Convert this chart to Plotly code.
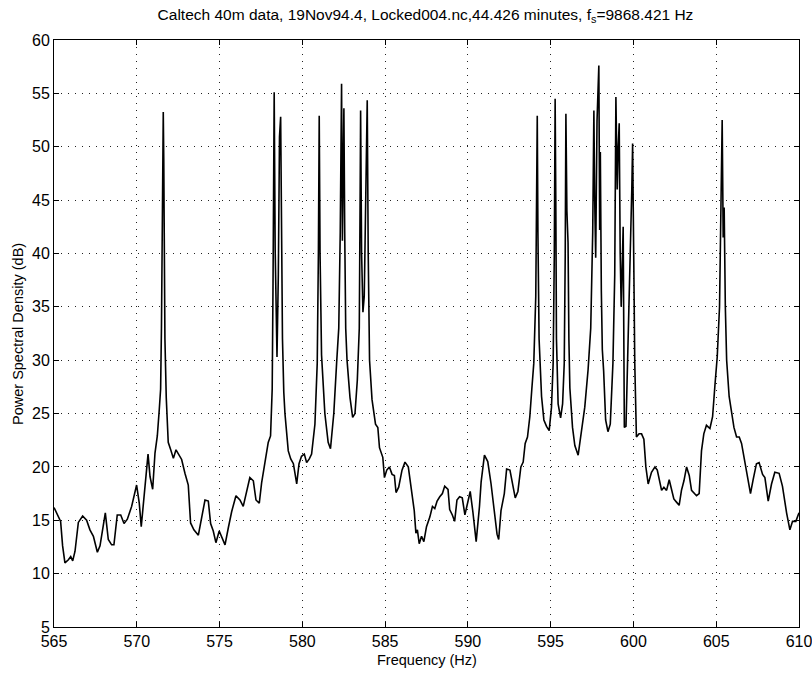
import plotly.graph_objects as go

freq_hz = [
    565.00, 565.26, 565.40, 565.52, 565.66, 565.87, 566.01, 566.13, 566.27, 566.47,
    566.73, 566.97, 567.17, 567.38, 567.62, 567.78, 567.94, 568.10, 568.28, 568.48,
    568.62, 568.82, 569.03, 569.23, 569.43, 569.69, 569.99, 570.15, 570.27, 570.56,
    570.68, 570.80, 570.96, 571.10, 571.24, 571.36, 571.44, 571.49, 571.54, 571.60,
    571.63, 571.66, 571.70, 571.78, 571.90, 572.05, 572.21, 572.37, 572.51, 572.71,
    572.91, 573.11, 573.25, 573.45, 573.72, 573.92, 574.12, 574.32, 574.46, 574.62,
    574.78, 574.98, 575.19, 575.33, 575.53, 575.73, 575.99, 576.23, 576.43, 576.63,
    576.83, 577.04, 577.20, 577.40, 577.54, 577.74, 577.94, 578.08, 578.18, 578.23,
    578.27, 578.30, 578.36, 578.42, 578.47, 578.55, 578.62, 578.69, 578.73, 578.80,
    578.88, 578.95, 579.15, 579.30, 579.46, 579.66, 579.80, 579.95, 580.12, 580.26,
    580.42, 580.56, 580.76, 580.90, 580.97, 581.02, 581.07, 581.16, 581.36, 581.56,
    581.70, 581.90, 582.07, 582.20, 582.29, 582.34, 582.37, 582.42, 582.47, 582.51,
    582.56, 582.62, 582.70, 582.88, 583.04, 583.18, 583.32, 583.44, 583.49, 583.52,
    583.58, 583.66, 583.74, 583.80, 583.86, 583.92, 583.98, 584.06, 584.21, 584.42,
    584.56, 584.66, 584.86, 584.96, 585.10, 585.26, 585.42, 585.56, 585.66, 585.82,
    586.02, 586.20, 586.40, 586.60, 586.76, 586.86, 586.95, 587.06, 587.20, 587.34,
    587.50, 587.70, 587.86, 588.00, 588.14, 588.30, 588.46, 588.60, 588.80, 588.90,
    589.06, 589.20, 589.34, 589.50, 589.66, 589.82, 590.00, 590.14, 590.30, 590.50,
    590.70, 590.80, 591.00, 591.20, 591.40, 591.60, 591.76, 591.86, 592.00, 592.20,
    592.34, 592.54, 592.70, 592.86, 593.02, 593.20, 593.34, 593.46, 593.60, 593.74,
    593.86, 593.98, 594.10, 594.15, 594.19, 594.23, 594.30, 594.45, 594.59, 594.75,
    594.91, 595.05, 595.15, 595.22, 595.27, 595.31, 595.35, 595.45, 595.60, 595.72,
    595.82, 595.88, 595.92, 595.98, 596.05, 596.10, 596.16, 596.32, 596.46, 596.66,
    596.86, 597.06, 597.26, 597.42, 597.54, 597.61, 597.66, 597.72, 597.80, 597.91,
    597.96, 598.00, 598.06, 598.12, 598.20, 598.32, 598.46, 598.60, 598.76, 598.87,
    598.94, 599.02, 599.08, 599.14, 599.20, 599.26, 599.38, 599.45, 599.55, 599.65,
    599.80, 599.90, 599.95, 600.01, 600.08, 600.18, 600.34, 600.49, 600.63, 600.75,
    600.89, 601.09, 601.30, 601.44, 601.60, 601.70, 601.84, 602.00, 602.16, 602.30,
    602.44, 602.60, 602.76, 602.90, 603.05, 603.21, 603.37, 603.51, 603.67, 603.81,
    603.97, 604.11, 604.25, 604.41, 604.62, 604.78, 604.92, 605.06, 605.20, 605.30,
    605.36, 605.42, 605.48, 605.55, 605.63, 605.78, 605.92, 606.07, 606.23, 606.39,
    606.53, 606.73, 606.93, 607.07, 607.23, 607.43, 607.59, 607.80, 607.94, 608.14,
    608.34, 608.54, 608.80, 609.00, 609.25, 609.45, 609.61, 609.81, 610.00,
]

psd_db = [
    16.2, 15.4, 14.9, 12.6, 11.0, 11.3, 11.6, 11.2, 12.1, 14.8,
    15.4, 15.0, 14.1, 13.5, 12.0, 12.6, 14.4, 15.7, 13.2, 12.7,
    12.7, 15.5, 15.5, 14.7, 15.1, 16.3, 18.3, 16.6, 14.4, 18.8,
    21.2, 19.1, 17.9, 21.3, 22.9, 25.4, 27.3, 33.0, 41.5, 53.25,
    48.9, 42.4, 32.0, 26.5, 22.3, 21.6, 20.8, 21.6, 21.2, 20.7,
    19.4, 18.3, 14.75, 14.1, 13.6, 15.1, 16.9, 16.8, 14.7, 14.0,
    12.9, 14.0, 13.2, 12.7, 14.3, 15.8, 17.3, 16.9, 16.3, 17.6,
    19.0, 18.7, 16.9, 16.6, 18.5, 20.4, 22.3, 22.9, 27.3, 37.2,
    49.4, 55.1, 40.3, 33.0, 30.3, 38.0, 50.9, 52.8, 44.7, 32.0,
    27.0, 25.0, 21.5, 20.75, 20.3, 18.4, 20.3, 21.0, 21.2, 20.4,
    20.75, 21.2, 24.0, 29.7, 40.0, 52.9, 40.0, 30.5, 25.0, 22.3,
    21.7, 25.0, 29.7, 33.0, 42.0, 53.0, 55.9, 41.2, 50.0, 53.6,
    42.0, 33.0, 30.0, 26.5, 24.65, 25.0, 28.1, 33.0, 45.0, 53.4,
    40.0, 34.5, 36.0, 44.0, 50.0, 54.35, 40.0, 30.0, 26.3, 24.0,
    23.7, 21.8, 20.9, 19.0, 19.7, 20.0, 19.3, 19.2, 17.6, 18.1,
    19.7, 20.45, 20.0, 17.8, 15.9, 13.8, 14.1, 12.8, 13.5, 13.0,
    14.4, 15.3, 16.3, 16.1, 16.8, 17.2, 17.5, 18.2, 17.9, 16.0,
    15.5, 14.9, 16.9, 17.2, 17.1, 15.5, 16.9, 17.7, 15.8, 13.0,
    16.3, 18.6, 21.1, 20.5, 18.4, 15.6, 13.7, 13.2, 15.9, 17.5,
    19.8, 19.7, 18.2, 17.1, 17.7, 20.0, 20.45, 22.2, 22.8, 24.7,
    27.25, 29.7, 36.0, 45.0, 52.9, 42.0, 32.0, 26.6, 24.4, 23.8,
    23.4, 25.6, 29.7, 40.0, 54.5, 45.0, 32.0, 25.9, 24.6, 25.9,
    29.7, 40.0, 53.1, 44.0, 41.0, 32.0, 27.4, 23.7, 22.0, 21.1,
    23.4, 25.6, 29.1, 33.0, 42.0, 53.4, 45.0, 39.6, 52.4, 57.6,
    42.2, 49.5, 36.5, 31.0, 29.0, 24.4, 23.3, 24.0, 29.7, 38.0,
    54.65, 46.0, 50.0, 52.2, 40.0, 35.0, 42.5, 23.7, 23.8, 29.7,
    38.0, 46.0, 50.3, 42.0, 29.7, 22.8, 23.1, 23.1, 22.6, 20.0,
    18.4, 19.5, 20.0, 19.7, 18.7, 17.8, 18.1, 17.8, 18.8, 17.8,
    17.0, 16.7, 16.4, 17.8, 18.7, 20.0, 19.2, 17.8, 17.5, 17.3,
    17.5, 21.5, 23.1, 23.9, 23.6, 24.7, 27.6, 30.3, 35.0, 45.0,
    52.5, 41.5, 44.3, 35.0, 30.0, 26.6, 25.0, 23.7, 22.8, 22.8,
    22.2, 20.3, 18.4, 17.5, 18.8, 20.3, 20.4, 19.3, 19.0, 16.8,
    18.4, 19.5, 19.4, 18.2, 15.7, 14.1, 14.9, 14.9, 15.7,
]

x_ticks = [565, 570, 575, 580, 585, 590, 595, 600, 605, 610]
y_ticks = [5, 10, 15, 20, 25, 30, 35, 40, 45, 50, 55, 60]

title_text = ("Caltech 40m data, 19Nov94.4, Locked004.nc,44.426 minutes, "
              "f<sub>s</sub>=9868.421 Hz")
x_title = "Frequency (Hz)"
y_title = "Power Spectral Density (dB)"

FONT = "Liberation Sans, Arial, Helvetica, sans-serif"

fig = go.Figure()
fig.add_trace(go.Scatter(
    x=freq_hz, y=psd_db, mode="lines",
    line=dict(color="black", width=1.6),
    hoverinfo="x+y", showlegend=False,
))

axis_common = dict(
    showline=True, linecolor="black", linewidth=1, mirror="ticks",
    ticks="inside", ticklen=5, tickwidth=1, tickcolor="black",
    showgrid=True, gridcolor="#222222", gridwidth=1, griddash="1px,6px",
    zeroline=False, automargin=False, ticklabeloverflow="allow",
    tickfont=dict(family=FONT, size=16, color="black"),
)

fig.update_layout(
    width=812, height=675,
    paper_bgcolor="white", plot_bgcolor="white",
    margin=dict(l=54, r=13, t=40, b=48),
    title=dict(text=title_text, x=0.524, xanchor="center",
               yref="container", y=0.987, yanchor="top",
               font=dict(family=FONT, size=15.5, color="black")),
    xaxis=dict(range=[565, 610], tickvals=x_ticks,
               ticktext=[str(v) for v in x_ticks], **axis_common),
    yaxis=dict(range=[5, 60], tickvals=y_ticks,
               ticktext=[str(v) for v in y_ticks], **axis_common),
    annotations=[
        dict(text=x_title, xref="paper", yref="paper", x=0.5, y=-0.057,
             xanchor="center", yanchor="middle", showarrow=False,
             font=dict(family=FONT, size=14.5, color="black")),
        dict(text=y_title, xref="paper", yref="paper", x=-0.049, y=0.5,
             xanchor="center", yanchor="middle", showarrow=False, textangle=-90,
             font=dict(family=FONT, size=14.5, color="black")),
    ],
)

fig.write_html(
    "out.html",
    config={"displayModeBar": False},
    post_script="document.body.style.margin='0px';document.body.style.overflow='hidden';",
)
